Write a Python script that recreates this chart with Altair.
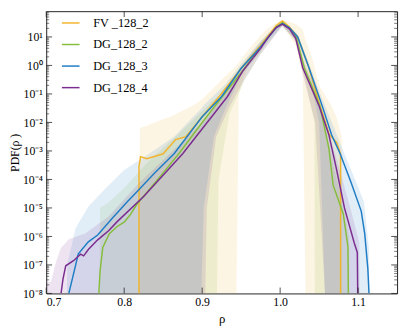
import altair as alt
import pandas as pd

series = ["FV _128_2", "DG_128_2", "DG_128_3", "DG_128_4"]
colors = ["#F2B42D", "#86BD3D", "#1F7DC5", "#7A2C8F"]

# ---- lines: rho and log10(PDF) ----
fv_rho = [0.819, 0.819, 0.821, 0.829, 0.850, 0.866, 0.879, 0.900, 0.919, 0.950, 0.975, 0.985,
          0.995, 1.003, 1.012, 1.0225, 1.036, 1.050, 1.063, 1.0725, 1.0775, 1.0775]
fv_lg = [-8.0, -3.54, -3.20, -3.27, -3.10, -2.60, -2.50, -1.80, -1.19, -0.10, 0.70, 1.05,
         1.40, 1.56, 1.35, 1.00, 0.00, -1.30, -2.43, -2.70, -3.10, -8.0]

g2_rho = [0.7675, 0.769, 0.7725, 0.781, 0.791, 0.800, 0.8075, 0.816, 0.850, 0.870, 0.900, 0.930,
          0.953, 0.975, 0.985, 0.995, 1.003, 1.012, 1.021, 1.031, 1.051, 1.0625, 1.068, 1.081,
          1.087, 1.0875]
g2_lg = [-8.0, -7.23, -6.39, -5.90, -5.65, -5.50, -5.25, -4.88, -3.77, -3.10, -2.00, -0.95,
         -0.15, 0.65, 1.00, 1.35, 1.50, 1.30, 0.95, -0.08, -1.42, -2.90, -4.20, -5.21,
         -6.36, -8.0]

g3_rho = [0.729, 0.7375, 0.741, 0.754, 0.766, 0.785, 0.804, 0.816, 0.840, 0.864, 0.900, 0.925,
          0.950, 0.975, 0.985, 0.995, 1.003, 1.012, 1.0225, 1.036, 1.054, 1.066, 1.077, 1.091,
          1.104, 1.1085, 1.1125, 1.114]
g3_lg = [-8.0, -7.03, -6.62, -6.19, -5.95, -5.35, -4.78, -4.44, -3.75, -3.10, -1.80, -1.09,
         -0.10, 0.65, 1.00, 1.33, 1.47, 1.32, 1.00, 0.00, -1.42, -2.43, -3.10, -4.11,
         -5.11, -5.90, -7.13, -8.0]

g4_rho = [0.719, 0.7215, 0.725, 0.735, 0.744, 0.748, 0.754, 0.766, 0.780, 0.791, 0.825, 0.875,
          0.9325, 0.952, 0.975, 0.985, 0.995, 1.003, 1.012, 1.020, 1.029, 1.050, 1.0625, 1.072,
          1.0825, 1.095, 1.099, 1.0995]
g4_lg = [-8.0, -7.5, -7.03, -6.85, -6.62, -6.68, -6.46, -6.12, -5.80, -5.48, -4.60, -3.10,
         -1.09, -0.20, 0.60, 1.00, 1.33, 1.45, 1.28, 0.95, -0.08, -1.42, -2.43, -3.60,
         -5.00, -6.22, -6.56, -8.0]

# ---- shaded bands: rho, log10 upper, log10 lower ----
fvb_rho = [0.8195, 0.820, 0.8625, 0.891, 0.900, 0.932, 0.944, 0.947, 0.9575, 0.975, 0.9825,
           1.000, 1.004, 1.020, 1.029, 1.0325, 1.041, 1.051, 1.066, 1.0725, 1.079, 1.0795]
fvb_hi = [-8.0, -2.2, -1.76, -1.36, -1.19, -0.32, 0.0, 0.1, 0.49, 1.05, 1.26,
          1.58, 1.60, 1.45, 1.26, 0.9, 0.26, -0.75, -1.42, -1.83, -2.5, -8.0]
fvb_lo = [-8.0, -8.0, -8.0, -8.0, -8.0, -8.0, -8.0, -1.0, -0.1, 0.5, 0.9,
          1.35, 1.35, 0.7, -0.3, -8.0, -8.0, -8.0, -8.0, -8.0, -8.0, -8.0]

g2b_rho = [0.7685, 0.769, 0.780, 0.800, 0.830, 0.870, 0.919, 0.921, 0.935, 0.955, 0.975,
           1.003, 1.021, 1.031, 1.044, 1.0445, 1.055, 1.068, 1.081, 1.0885, 1.089]
g2b_hi = [-8.0, -5.0, -4.8, -4.3, -3.4, -2.4, -1.1, -1.05, -0.6, 0.15, 0.85,
          1.55, 1.1, 0.2, -0.8, -0.82, -1.8, -3.5, -4.9, -6.0, -8.0]
g2b_lo = [-8.0, -8.0, -8.0, -8.0, -8.0, -8.0, -8.0, -4.0, -1.7, -0.5, 0.4,
          1.4, 0.8, -0.4, -2.0, -8.0, -8.0, -8.0, -8.0, -8.0, -8.0]

g3b_rho = [0.7265, 0.727, 0.7375, 0.754, 0.775, 0.800, 0.840, 0.864, 0.899, 0.902, 0.915,
           0.930, 0.950, 0.975, 0.985, 1.003, 1.0225, 1.036, 1.050, 1.0575, 1.0825, 1.0975,
           1.1075, 1.114, 1.1145]
g3b_hi = [-8.0, -7.0, -5.72, -4.95, -4.34, -3.67, -2.95, -2.5, -1.5, -1.4, -1.05,
          -0.65, 0.05, 0.85, 1.15, 1.55, 1.1, 0.15, -0.9, -1.4, -3.1, -4.1,
          -4.78, -6.46, -8.0]
g3b_lo = [-8.0, -8.0, -8.0, -8.0, -8.0, -8.0, -8.0, -8.0, -8.0, -5.0, -2.5,
          -1.5, -0.35, 0.5, 0.85, 1.38, 0.85, -0.15, -2.0, -8.0, -8.0, -8.0,
          -8.0, -8.0, -8.0]

g4b_rho = [0.700, 0.7005, 0.706, 0.7125, 0.719, 0.729, 0.750, 0.780, 0.820, 0.870, 0.904,
           0.906, 0.918, 0.935, 0.955, 0.975, 1.003, 1.020, 1.029, 1.045, 1.0575, 1.065,
           1.080, 1.092, 1.1015, 1.102]
g4b_hi = [-8.0, -7.6, -7.6, -6.9, -6.4, -6.1, -5.9, -5.3, -4.1, -2.8, -1.9,
          -1.85, -1.4, -0.8, 0.1, 0.8, 1.52, 1.1, 0.25, -0.9, -1.9, -2.6,
          -4.0, -5.2, -6.2, -8.0]
g4b_lo = [-8.0, -8.0, -8.0, -8.0, -8.0, -8.0, -8.0, -8.0, -8.0, -8.0, -8.0,
          -5.0, -2.5, -1.45, -0.45, 0.4, 1.38, 0.85, -0.3, -2.0, -8.0, -8.0,
          -8.0, -8.0, -8.0, -8.0]

# ---- axis ticks ----
x_ticks = [0.7, 0.8, 0.9, 1.0, 1.1]
y_major = [1e-8, 1e-7, 1e-6, 1e-5, 1e-4, 1e-3, 1e-2, 1e-1, 1e0, 1e1]
y_minor = [m * 10.0 ** k for k in range(-8, 2) for m in range(2, 10) if m * 10.0 ** k < 80]

W, H = 358, 288

line_rows = []
for name, rr, ll in [(series[0], fv_rho, fv_lg), (series[1], g2_rho, g2_lg),
                     (series[2], g3_rho, g3_lg), (series[3], g4_rho, g4_lg)]:
    for i, (r, l) in enumerate(zip(rr, ll)):
        line_rows.append({"series": name, "i": i, "rho": r, "pdf": 10.0 ** l})
line_df = pd.DataFrame(line_rows)

band_sets = [(fvb_rho, fvb_hi, fvb_lo), (g2b_rho, g2b_hi, g2b_lo),
             (g3b_rho, g3b_hi, g3b_lo), (g4b_rho, g4b_hi, g4b_lo)]

xs = alt.Scale(domain=[0.7, 1.15], nice=False, zero=False)
ys = alt.Scale(type="log", domain=[1e-8, 80], nice=False)
FONT = "Liberation Serif"

x_axis = alt.Axis(values=x_ticks, format=".1f", ticks=False, tickSize=0, domain=False, grid=False,
                  labelFont=FONT, labelFontSize=12, labelPadding=3, labelColor="black",
                  title="ρ", titleFont=FONT, titleFontSize=13, titleFontWeight="normal",
                  titlePadding=6, titleColor="black")
sup_expr = ("'10' + (round(log(datum.value)/LN10) < 0 ? '⁻' : '') + "
            "substring('⁰¹²³⁴⁵⁶⁷⁸⁹', abs(round(log(datum.value)/LN10)), abs(round(log(datum.value)/LN10))+1)")
y_axis = alt.Axis(values=y_major, labelExpr=sup_expr, ticks=False, tickSize=0, domain=False, grid=False,
                  labelFont=FONT, labelFontSize=12, labelPadding=4, labelColor="black",
                  title="PDF(ρ )", titleFont=FONT, titleFontSize=12, titleFontWeight="normal",
                  titlePadding=1, titleColor="black")

layers = []
for k, (rr, hh, lo) in enumerate(band_sets):
    bdf = pd.DataFrame({"rho": rr, "hi": [10.0 ** v for v in hh], "lo": [10.0 ** v for v in lo]})
    if k == 0:
        enc_x = alt.X("rho:Q", scale=xs, axis=x_axis)
        enc_y = alt.Y("hi:Q", scale=ys, axis=y_axis, stack=None)
    else:
        enc_x = alt.X("rho:Q")
        enc_y = alt.Y("hi:Q", stack=None)
    layers.append(
        alt.Chart(bdf).mark_area(color=colors[k], fillOpacity=0.13, strokeWidth=0, clip=True)
        .encode(x=enc_x, y=enc_y, y2="lo:Q")
    )

lines = alt.Chart(line_df).mark_line(strokeWidth=1.5, clip=True).encode(
    x=alt.X("rho:Q"),
    y=alt.Y("pdf:Q"),
    color=alt.Color("series:N", scale=alt.Scale(domain=series, range=colors),
                    legend=alt.Legend(orient="none", legendX=15, legendY=2, title=None,
                                      symbolType="stroke", symbolStrokeWidth=1.5, symbolSize=324,
                                      labelFont=FONT, labelFontSize=12.5, labelColor="black",
                                      labelOffset=13, rowPadding=5, padding=0)),
    order="i:Q",
)
layers.append(lines)

ymaj_df = pd.DataFrame({"v": y_major})
ymin_df = pd.DataFrame({"v": y_minor})
x_df = pd.DataFrame({"v": x_ticks})

tick_color = "#222222"
layers += [
    alt.Chart(ymaj_df).mark_rule(color=tick_color, strokeWidth=0.8).encode(
        y="v:Q", x=alt.value(0), x2=alt.value(6)),
    alt.Chart(ymaj_df).mark_rule(color=tick_color, strokeWidth=0.8).encode(
        y="v:Q", x=alt.value(W), x2=alt.value(W - 6)),
    alt.Chart(ymin_df).mark_rule(color=tick_color, strokeWidth=0.6).encode(
        y="v:Q", x=alt.value(0), x2=alt.value(3)),
    alt.Chart(ymin_df).mark_rule(color=tick_color, strokeWidth=0.6).encode(
        y="v:Q", x=alt.value(W), x2=alt.value(W - 3)),
    alt.Chart(x_df).mark_rule(color=tick_color, strokeWidth=0.8).encode(
        x="v:Q", y=alt.value(H), y2=alt.value(H - 6)),
    alt.Chart(x_df).mark_rule(color=tick_color, strokeWidth=0.8).encode(
        x="v:Q", y=alt.value(0), y2=alt.value(6)),
]

chart = alt.layer(*layers).properties(
    width=W, height=H,
    autosize=alt.AutoSizeParams(type="none"),
    padding={"left": 39, "top": 0, "right": 4, "bottom": 32},
).configure(background="white", font=FONT).configure_view(
    stroke="#222222", strokeWidth=1
).configure_legend(labelFont=FONT)

chart.save("out.html", embed_options={"renderer": "svg", "actions": False})
